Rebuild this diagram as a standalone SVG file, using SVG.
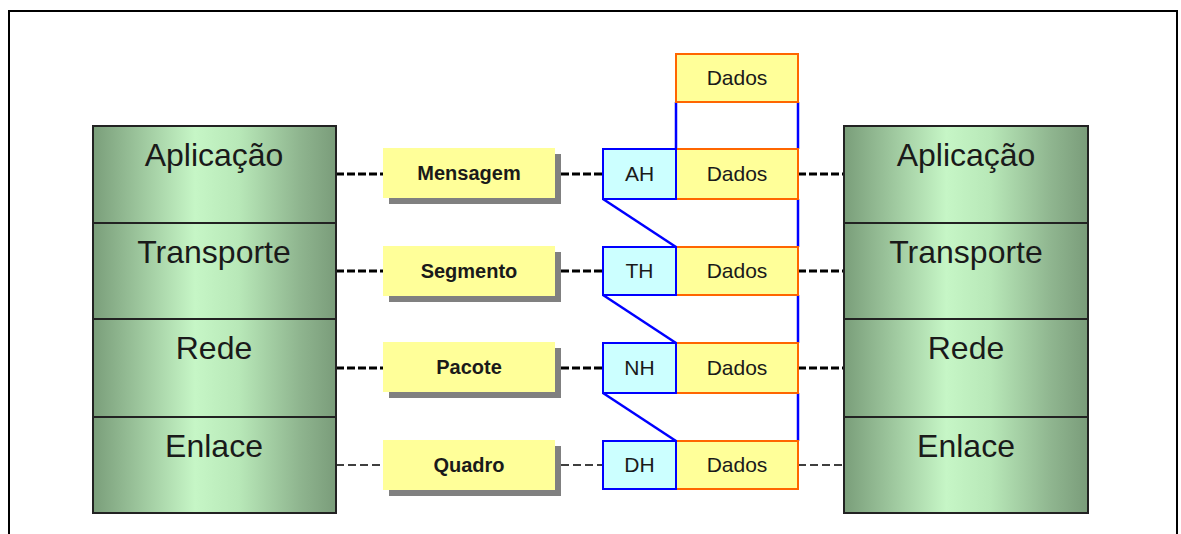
<svg xmlns="http://www.w3.org/2000/svg" width="1181" height="534" viewBox="0 0 1181 534">
<defs>
<linearGradient id="g" x1="0" y1="0" x2="1" y2="0">
<stop offset="0" stop-color="#7a9e7a"/>
<stop offset="0.15" stop-color="#95bd95"/>
<stop offset="0.42" stop-color="#c6f6c6"/>
<stop offset="0.6" stop-color="#b8e8b8"/>
<stop offset="0.85" stop-color="#8fb58f"/>
<stop offset="1" stop-color="#7a9c7a"/>
</linearGradient>
</defs>
<style>
.layer{fill:url(#g);stroke:#222;stroke-width:2}
.lt{font-family:"Liberation Sans",Arial,sans-serif;font-size:32px;fill:#1a1a1a;text-anchor:middle}
.lbl{fill:#ffff99}
.sh{fill:#808080}
.lbt{font-family:"Liberation Sans",Arial,sans-serif;font-size:20px;font-weight:bold;fill:#1a1a1a;text-anchor:middle}
.hd{fill:#ccffff;stroke:#0000ff;stroke-width:2}
.dd{fill:#ffff99;stroke:#ff6600;stroke-width:2}
.ht{font-family:"Liberation Sans",Arial,sans-serif;font-size:21px;fill:#1a1a1a;text-anchor:middle}
.thick{stroke:#000;stroke-width:3;stroke-dasharray:8 3;fill:none}
.thin{stroke:#000;stroke-width:1.3;stroke-dasharray:8 4;fill:none}
.blue{stroke:#0000ff;stroke-width:2.5;fill:none}
</style>
<path d="M9,534 V11 H1177 V534" fill="none" stroke="#000" stroke-width="2"/>

<g id="connectors">
<line class="thick" x1="336" y1="174" x2="383" y2="174"/>
<line class="thick" x1="561" y1="174" x2="603" y2="174"/>
<line class="thick" x1="798" y1="174" x2="844" y2="174"/>
<line class="thick" x1="336" y1="271" x2="383" y2="271"/>
<line class="thick" x1="561" y1="271" x2="603" y2="271"/>
<line class="thick" x1="798" y1="271" x2="844" y2="271"/>
<line class="thick" x1="336" y1="368" x2="383" y2="368"/>
<line class="thick" x1="561" y1="368" x2="603" y2="368"/>
<line class="thick" x1="798" y1="368" x2="844" y2="368"/>
<line class="thin" x1="336" y1="465" x2="383" y2="465"/>
<line class="thin" x1="561" y1="465" x2="603" y2="465"/>
<line class="thin" x1="798" y1="465" x2="844" y2="465"/>
<line class="blue" x1="676" y1="102" x2="676" y2="149"/>
<line class="blue" x1="798" y1="102" x2="798" y2="149"/>
<line class="blue" x1="603" y1="199" x2="676" y2="247"/>
<line class="blue" x1="798" y1="199" x2="798" y2="247"/>
<line class="blue" x1="603" y1="295" x2="676" y2="343"/>
<line class="blue" x1="798" y1="295" x2="798" y2="343"/>
<line class="blue" x1="603" y1="393" x2="676" y2="441"/>
<line class="blue" x1="798" y1="393" x2="798" y2="441"/>
</g>

<g id="left-stack">
<rect class="layer" x="93" y="126" width="243" height="97"/>
<text class="lt" x="214" y="166">Aplicação</text>
<rect class="layer" x="93" y="223" width="243" height="96"/>
<text class="lt" x="214" y="263">Transporte</text>
<rect class="layer" x="93" y="319" width="243" height="98"/>
<text class="lt" x="214" y="359">Rede</text>
<rect class="layer" x="93" y="417" width="243" height="96"/>
<text class="lt" x="214" y="457">Enlace</text>
</g>

<g id="right-stack">
<rect class="layer" x="844" y="126" width="244" height="97"/>
<text class="lt" x="966" y="166">Aplicação</text>
<rect class="layer" x="844" y="223" width="244" height="96"/>
<text class="lt" x="966" y="263">Transporte</text>
<rect class="layer" x="844" y="319" width="244" height="98"/>
<text class="lt" x="966" y="359">Rede</text>
<rect class="layer" x="844" y="417" width="244" height="96"/>
<text class="lt" x="966" y="457">Enlace</text>
</g>

<g id="mensagem">
<rect class="sh" x="389" y="154" width="172" height="50"/>
<rect class="lbl" x="383" y="148" width="172" height="50"/>
<text class="lbt" x="469" y="180">Mensagem</text>
</g>
<g id="segmento">
<rect class="sh" x="389" y="252" width="172" height="50"/>
<rect class="lbl" x="383" y="246" width="172" height="50"/>
<text class="lbt" x="469" y="278">Segmento</text>
</g>
<g id="pacote">
<rect class="sh" x="389" y="348" width="172" height="50"/>
<rect class="lbl" x="383" y="342" width="172" height="50"/>
<text class="lbt" x="469" y="374">Pacote</text>
</g>
<g id="quadro">
<rect class="sh" x="389" y="446" width="172" height="50"/>
<rect class="lbl" x="383" y="440" width="172" height="50"/>
<text class="lbt" x="469" y="472">Quadro</text>
</g>

<g id="dados-top">
<rect class="dd" x="676" y="54" width="122" height="48"/>
<text class="ht" x="737" y="85">Dados</text>
</g>
<g id="app-pdu">
<rect class="dd" x="676" y="149" width="122" height="50"/>
<text class="ht" x="737" y="181">Dados</text>
<rect class="hd" x="603" y="149" width="73" height="50"/>
<text class="ht" x="639.5" y="181">AH</text>
</g>
<g id="transp-pdu">
<rect class="dd" x="676" y="247" width="122" height="48"/>
<text class="ht" x="737" y="278">Dados</text>
<rect class="hd" x="603" y="247" width="73" height="48"/>
<text class="ht" x="639.5" y="278">TH</text>
</g>
<g id="rede-pdu">
<rect class="dd" x="676" y="343" width="122" height="50"/>
<text class="ht" x="737" y="375">Dados</text>
<rect class="hd" x="603" y="343" width="73" height="50"/>
<text class="ht" x="639.5" y="375">NH</text>
</g>
<g id="enlace-pdu">
<rect class="dd" x="676" y="441" width="122" height="48"/>
<text class="ht" x="737" y="472">Dados</text>
<rect class="hd" x="603" y="441" width="73" height="48"/>
<text class="ht" x="639.5" y="472">DH</text>
</g>
</svg>
